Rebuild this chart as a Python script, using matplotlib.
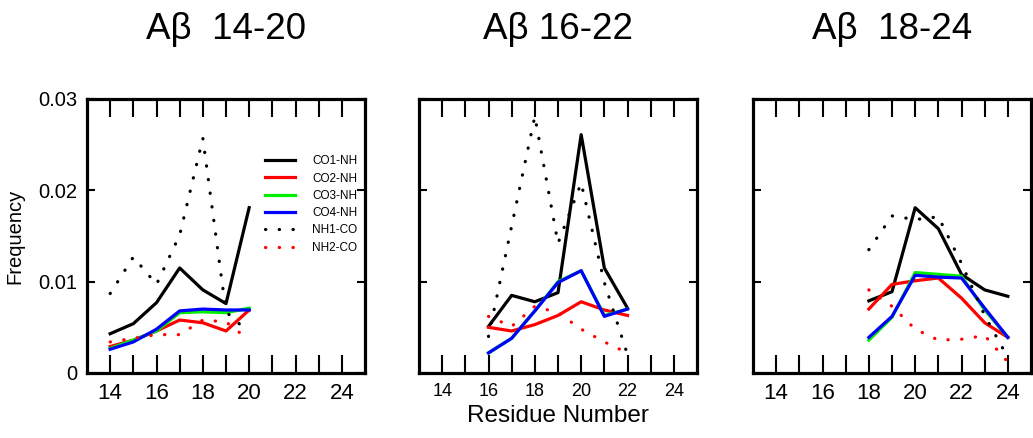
import matplotlib
matplotlib.use("Agg")
import matplotlib.pyplot as plt

plt.rcParams['font.family'] = ['Liberation Sans', 'DejaVu Sans']

# ---- data ----
titles = ["A\u03b2  14-20", "A\u03b2 16-22", "A\u03b2  18-24"]
series_names = ["CO1-NH", "CO2-NH", "CO3-NH", "CO4-NH", "NH1-CO", "NH2-CO"]

res_1 = [14, 15, 16, 17, 18, 19, 20]
co1_1 = [0.0043, 0.0054, 0.0077, 0.0115, 0.0091, 0.0076, 0.0181]
co2_1 = [0.0029, 0.0036, 0.0046, 0.0058, 0.0055, 0.0046, 0.0069]
co3_1 = [0.0027, 0.0036, 0.0046, 0.0066, 0.0067, 0.0066, 0.0071]
co4_1 = [0.0026, 0.0034, 0.0048, 0.0068, 0.0070, 0.0069, 0.0069]
nh1_1 = [0.0087, 0.0127, 0.0097, 0.0151, 0.0257, 0.0067, 0.0044]
nh2_1 = [0.0034, 0.0038, 0.0042, 0.0042, 0.0058, 0.0056, 0.0036]

res_2 = [16, 17, 18, 19, 20, 21, 22]
co1_2 = [0.0051, 0.0085, 0.0078, 0.0088, 0.0261, 0.0115, 0.0071]
co2_2 = [0.0050, 0.0046, 0.0053, 0.0063, 0.0078, 0.0069, 0.0063]
co3_2 = [0.0022, 0.0038, 0.0068, 0.0100, 0.0112, 0.0063, 0.0070]
co4_2 = [0.0022, 0.0038, 0.0068, 0.0099, 0.0112, 0.0062, 0.0070]
nh1_2 = [0.0040, 0.0161, 0.0281, 0.0142, 0.0208, 0.0099, 0.0020]
nh2_2 = [0.0062, 0.0051, 0.0073, 0.0066, 0.0048, 0.0034, 0.0022]

res_3 = [18, 19, 20, 21, 22, 23, 24]
co1_3 = [0.0079, 0.0089, 0.0181, 0.0158, 0.0108, 0.0091, 0.0084]
co2_3 = [0.0070, 0.0097, 0.0101, 0.0104, 0.0082, 0.0055, 0.0039]
co3_3 = [0.0036, 0.0061, 0.0110, 0.0108, 0.0106, 0.0069, 0.0039]
co4_3 = [0.0039, 0.0062, 0.0107, 0.0105, 0.0104, 0.0071, 0.0039]
nh1_3 = [0.0135, 0.0172, 0.0168, 0.0171, 0.0120, 0.0063, 0.0017]
nh2_3 = [0.0091, 0.0073, 0.0048, 0.0036, 0.0037, 0.0041, 0.0012]

x_ticks = list(range(14, 25))
x_labels = [str(t) if t % 2 == 0 else "" for t in x_ticks]
y_ticks = [0, 0.01, 0.02, 0.03]
y_labels = ["0", "0.01", "0.02", "0.03"]

panels = [
    (res_1, [co1_1, co2_1, co3_1, co4_1, nh1_1, nh2_1]),
    (res_2, [co1_2, co2_2, co3_2, co4_2, nh1_2, nh2_2]),
    (res_3, [co1_3, co2_3, co3_3, co4_3, nh1_3, nh2_3]),
]

colors = ["black", "#ff0000", "#00ee00", "#0000ff", "black", "#ff0000"]
dotted = (0, (0.1, 4.2))
styles = ["-", "-", "-", "-", dotted, dotted]

W, H = 1033, 438
fig = plt.figure(figsize=(W / 100, H / 100), dpi=100)

lefts = [87, 419, 753]
top, bottom = 99, 373
width = 278
xt_sizes = [16, 13, 16]

axes = []
for i, (res, ys) in enumerate(panels):
    ax = fig.add_axes([lefts[i] / W, (H - bottom) / H, width / W, (bottom - top) / H])
    axes.append(ax)
    for j, y in enumerate(ys):
        ln, = ax.plot(res, y, color=colors[j], linestyle=styles[j], lw=2.3,
                      label=series_names[j])
        if j >= 4:
            ln.set_dash_capstyle('round')
    ax.set_xlim(13, 25)
    ax.set_ylim(0, 0.03)
    ax.set_xticks(x_ticks)
    ax.set_xticklabels(x_labels, fontsize=xt_sizes[i])
    ax.set_yticks(y_ticks)
    if i == 0:
        ax.set_yticklabels(y_labels, fontsize=14.5)
        ax.set_ylabel("Frequency", fontsize=14.5)
        ax.yaxis.set_label_coords(-0.225, 0.5)
    else:
        ax.set_yticklabels([])
    ax.tick_params(axis='x', direction='in', length=13, width=1.5, top=True,
                   pad=7)
    ax.tick_params(axis='y', direction='in', length=6, width=1.5, right=True,
                   pad=7)
    for sp in ax.spines.values():
        sp.set_linewidth(2.3)
    ax.set_title(titles[i], fontsize=26.5, pad=43)

axes[1].set_xlabel("Residue Number", fontsize=17.5, labelpad=4)

leg = axes[0].legend(loc='upper left', bbox_to_anchor=(0.622, 0.812), frameon=False,
                     fontsize=8.5, handlelength=2.55, handletextpad=1.5,
                     labelspacing=0.45, borderaxespad=0)

fig.savefig("out.png", dpi=100)
